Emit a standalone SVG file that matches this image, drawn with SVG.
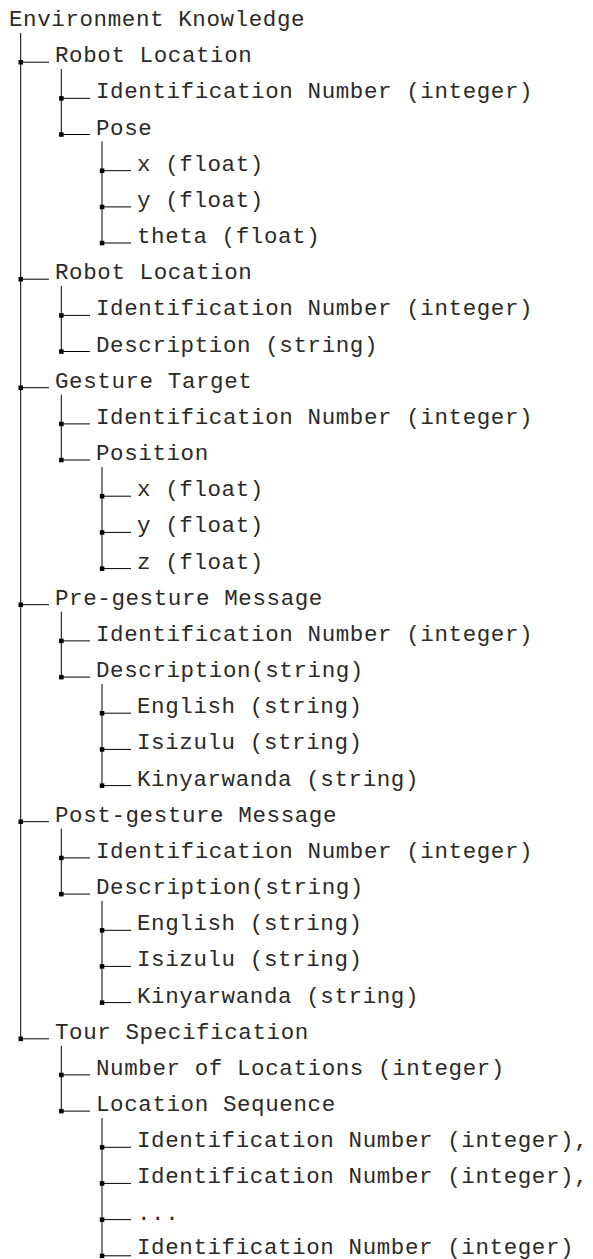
<svg xmlns="http://www.w3.org/2000/svg" width="593" height="1259" viewBox="0 0 593 1259">
<style>
text{font-family:"Liberation Mono","Courier New",monospace;font-size:22.5px;letter-spacing:0.6px;fill:#2a2a2a}
.ln{stroke:#000;stroke-width:1;fill:none}
.dot{fill:#000}
</style>
<defs><rect id="d" x="-2.2" y="-2.2" width="4.5" height="4.5" class="dot"/></defs>
<rect width="593" height="1259" fill="#fff"/>
<g id="connectors">
<path class="ln" d="M20.7 33V1038.8
M20.7 62.2H49M20.7 279.2H49M20.7 387.7H49M20.7 604.7H49M20.7 821.7H49M20.7 1038.8H49
M61.3 69V134.5M61.3 98.3H90M61.3 134.5H90
M102 141.5V243M102 170.7H131M102 206.9H131M102 243H131
M61.3 286V351.5M61.3 315.4H90M61.3 351.5H90
M61.3 394.7V460M61.3 423.9H90M61.3 460H90
M102 467V568.6M102 496.2H131M102 532.4H131M102 568.6H131
M61.3 611.7V677.1M61.3 640.9H90M61.3 677.1H90
M102 684V785.6M102 713.2H131M102 749.4H131M102 785.6H131
M61.3 828.7V894.1M61.3 857.9H90M61.3 894.1H90
M102 901V1002.6M102 930.3H131M102 966.4H131M102 1002.6H131
M61.3 1045.8V1111.1M61.3 1074.9H90M61.3 1111.1H90
M102 1118V1255.8M102 1147.3H131M102 1183.4H131M102 1219.6H131M102 1255.8H131"/>
<use href="#d" x="20.7" y="62.2"/><use href="#d" x="20.7" y="279.2"/><use href="#d" x="20.7" y="387.7"/><use href="#d" x="20.7" y="604.7"/><use href="#d" x="20.7" y="821.7"/><use href="#d" x="20.7" y="1038.8"/>
<use href="#d" x="61.3" y="98.3"/><use href="#d" x="61.3" y="134.5"/>
<use href="#d" x="102" y="170.7"/><use href="#d" x="102" y="206.9"/><use href="#d" x="102" y="243"/>
<use href="#d" x="61.3" y="315.4"/><use href="#d" x="61.3" y="351.5"/>
<use href="#d" x="61.3" y="423.9"/><use href="#d" x="61.3" y="460"/>
<use href="#d" x="102" y="496.2"/><use href="#d" x="102" y="532.4"/><use href="#d" x="102" y="568.6"/>
<use href="#d" x="61.3" y="640.9"/><use href="#d" x="61.3" y="677.1"/>
<use href="#d" x="102" y="713.2"/><use href="#d" x="102" y="749.4"/><use href="#d" x="102" y="785.6"/>
<use href="#d" x="61.3" y="857.9"/><use href="#d" x="61.3" y="894.1"/>
<use href="#d" x="102" y="930.3"/><use href="#d" x="102" y="966.4"/><use href="#d" x="102" y="1002.6"/>
<use href="#d" x="61.3" y="1074.9"/><use href="#d" x="61.3" y="1111.1"/>
<use href="#d" x="102" y="1147.3"/><use href="#d" x="102" y="1183.4"/><use href="#d" x="102" y="1219.6"/><use href="#d" x="102" y="1255.8"/>
</g>
<g id="n01"><text x="9" y="26">Environment Knowledge</text></g>
<g id="n02"><text x="55" y="62.2">Robot Location</text></g>
<g id="n03"><text x="96" y="98.3">Identification Number (integer)</text></g>
<g id="n04"><text x="96" y="134.5">Pose</text></g>
<g id="n05"><text x="137" y="170.7">x (float)</text></g>
<g id="n06"><text x="137" y="206.9">y (float)</text></g>
<g id="n07"><text x="137" y="243">theta (float)</text></g>
<g id="n08"><text x="55" y="279.2">Robot Location</text></g>
<g id="n09"><text x="96" y="315.4">Identification Number (integer)</text></g>
<g id="n10"><text x="96" y="351.5">Description (string)</text></g>
<g id="n11"><text x="55" y="387.7">Gesture Target</text></g>
<g id="n12"><text x="96" y="423.9">Identification Number (integer)</text></g>
<g id="n13"><text x="96" y="460">Position</text></g>
<g id="n14"><text x="137" y="496.2">x (float)</text></g>
<g id="n15"><text x="137" y="532.4">y (float)</text></g>
<g id="n16"><text x="137" y="568.6">z (float)</text></g>
<g id="n17"><text x="55" y="604.7">Pre-gesture Message</text></g>
<g id="n18"><text x="96" y="640.9">Identification Number (integer)</text></g>
<g id="n19"><text x="96" y="677.1">Description(string)</text></g>
<g id="n20"><text x="137" y="713.2">English (string)</text></g>
<g id="n21"><text x="137" y="749.4">Isizulu (string)</text></g>
<g id="n22"><text x="137" y="785.6">Kinyarwanda (string)</text></g>
<g id="n23"><text x="55" y="821.7">Post-gesture Message</text></g>
<g id="n24"><text x="96" y="857.9">Identification Number (integer)</text></g>
<g id="n25"><text x="96" y="894.1">Description(string)</text></g>
<g id="n26"><text x="137" y="930.3">English (string)</text></g>
<g id="n27"><text x="137" y="966.4">Isizulu (string)</text></g>
<g id="n28"><text x="137" y="1002.6">Kinyarwanda (string)</text></g>
<g id="n29"><text x="55" y="1038.8">Tour Specification</text></g>
<g id="n30"><text x="96" y="1074.9">Number of Locations (integer)</text></g>
<g id="n31"><text x="96" y="1111.1">Location Sequence</text></g>
<g id="n32"><text x="137" y="1147.3">Identification Number (integer),</text></g>
<g id="n33"><text x="137" y="1183.4">Identification Number (integer),</text></g>
<g id="n34"><text x="137" y="1219.6">...</text></g>
<g id="n35"><text x="137" y="1253.6">Identification Number (integer)</text></g>
</svg>
